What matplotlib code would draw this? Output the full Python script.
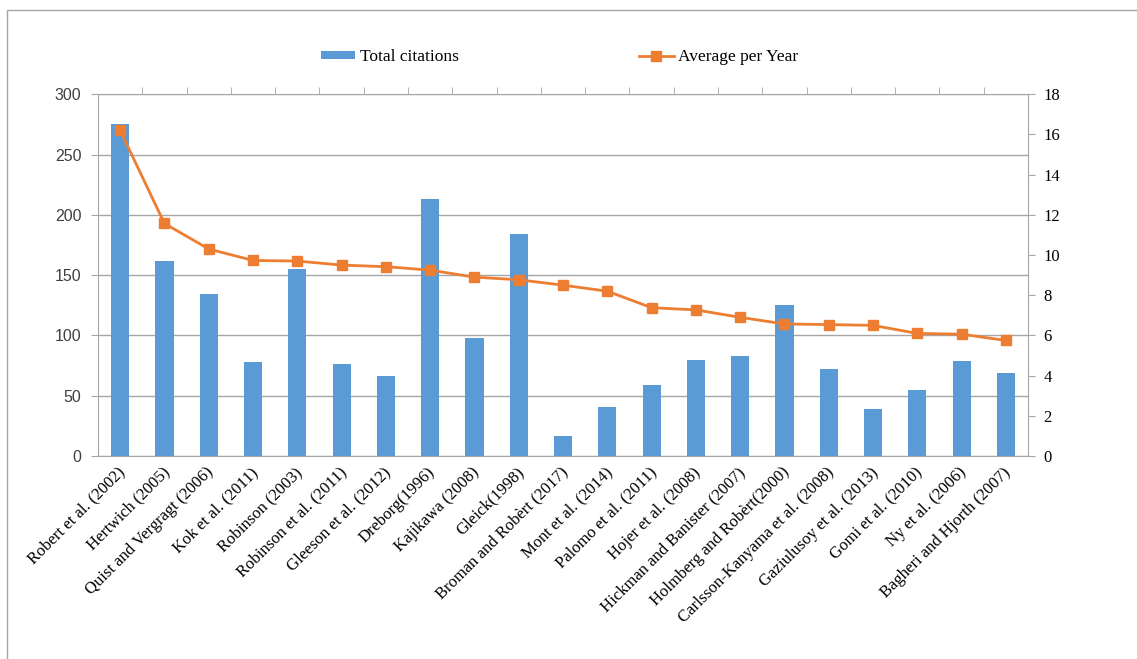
import numpy as np
import matplotlib.pyplot as plt
from matplotlib.patches import Rectangle
from matplotlib.transforms import ScaledTranslation

plt.rcParams['font.family'] = ['Liberation Serif', 'DejaVu Serif']
plt.rcParams['font.size'] = 12

authors = ['Robert et al. (2002)', 'Hertwich (2005)', 'Quist and Vergragt (2006)',
           'Kok et al. (2011)', 'Robinson (2003)', 'Robinson et al. (2011)',
           'Gleeson et al. (2012)', 'Dreborg(1996)', 'Kajikawa (2008)', 'Gleick(1998)',
           'Broman and Robèrt (2017)', 'Mont et al. (2014)', 'Palomo et al. (2011)',
           'Hojer et al. (2008)', 'Hickman and Banister (2007)', 'Holmberg and Robèrt(2000)',
           'Carlsson-Kanyama et al. (2008)', 'Gaziulusoy et al. (2013)', 'Gomi et al. (2010)',
           'Ny et al. (2006)', 'Bagheri and Hjorth (2007)']
total_citations = [275, 162, 134, 78, 155, 76, 66, 213, 98, 184, 17,
                   41, 59, 80, 83, 125, 72, 39, 55, 79, 69]
avg_per_year = [16.2, 11.57, 10.3, 9.73, 9.7, 9.5, 9.42, 9.25, 8.9, 8.77, 8.5,
                8.2, 7.38, 7.27, 6.9, 6.57, 6.54, 6.5, 6.1, 6.06, 5.75]

blue = '#5b9bd5'
orange = '#ed7d31'
grid_c = '#a6a6a6'

fig = plt.figure(figsize=(11.37, 6.59), dpi=100)
ax = fig.add_axes([0.0862, 0.308, 0.818, 0.549])
x = np.arange(len(authors))

bars = ax.bar(x, total_citations, width=0.41, color=blue, zorder=2, label='Total citations')
ax.set_xlim(-0.5, len(authors) - 0.5)
ax.set_ylim(0, 300)
ax.set_yticks(np.arange(0, 301, 50))
ax.yaxis.grid(True, color=grid_c, linewidth=1, zorder=0)
ax.set_axisbelow(True)
ax.set_xticks(x)
ax.set_xticklabels(authors, rotation=45, ha='right', rotation_mode='anchor')
ax.tick_params(axis='x', length=0, pad=6)
ax.tick_params(axis='y', length=5, color=grid_c, pad=7, labelcolor='#404040')
for lbl in ax.get_yticklabels():
    lbl.set_fontfamily(['Liberation Sans', 'DejaVu Sans'])
    lbl.set_fontsize(11.5)
# shift the slanted labels a little to the left, like the original
offset = ScaledTranslation(-3 / 100, 0, fig.dpi_scale_trans)
for lbl in ax.get_xticklabels():
    lbl.set_transform(lbl.get_transform() + offset)
ax.set_xticks(np.arange(0.5, len(authors) - 0.5, 1), minor=True)
ax.tick_params(axis='x', which='minor', top=True, bottom=False, labeltop=False,
               direction='out', length=5, color=grid_c)
for s in ['left', 'bottom', 'top']:
    ax.spines[s].set_color(grid_c)
ax.spines['right'].set_visible(False)

ax2 = ax.twinx()
line, = ax2.plot(x, avg_per_year, color=orange, linewidth=2, marker='s', markersize=7,
                 zorder=3, label='Average per Year')
ax2.set_ylim(0, 18)
ax2.set_yticks(np.arange(0, 19, 2))
ax2.tick_params(axis='y', length=5, color=grid_c, pad=6)
for s in ['left', 'bottom', 'top']:
    ax2.spines[s].set_visible(False)
ax2.spines['right'].set_color(grid_c)

fig.legend([bars, line], ['Total citations', 'Average per Year'], loc='center',
           bbox_to_anchor=(0.492, 0.913), ncol=2, frameon=False, columnspacing=10.4,
           handlelength=2.0, handleheight=0.35, handletextpad=0.25, fontsize=12.5)

fig.patches.append(Rectangle((7 / 1137, -0.02), 1.05, 1.005,
                             transform=fig.transFigure, fill=False, edgecolor=grid_c,
                             linewidth=1))

fig.savefig('out.png', dpi=100)
